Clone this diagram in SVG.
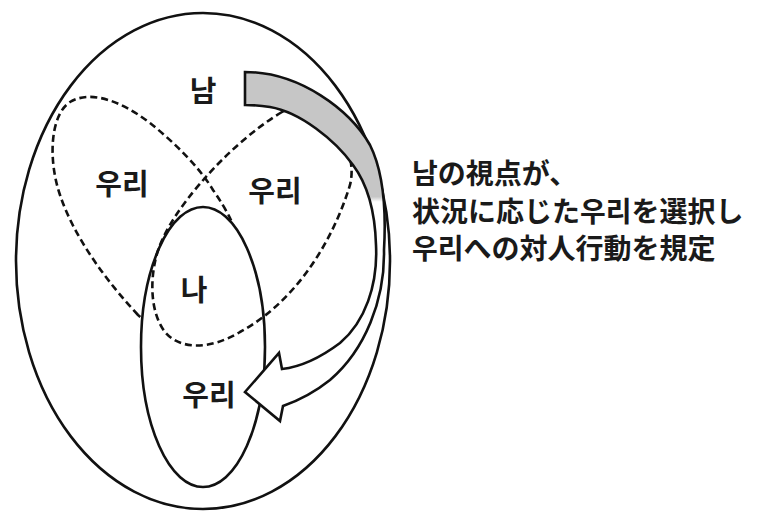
<svg xmlns="http://www.w3.org/2000/svg" width="761" height="511" viewBox="0 0 761 511">
<style>
.solid{fill:#fff;stroke:#111;stroke-width:2.6}
.dash{fill:none;stroke:#111;stroke-width:2.6;stroke-dasharray:7 4}
.lbl{font-family:"Noto Sans CJK KR","Noto Sans CJK JP",sans-serif;font-weight:bold;font-size:29px;fill:#1a1a1a;text-anchor:middle}
.note{font-family:"Noto Sans CJK JP","Noto Sans CJK KR",sans-serif;font-weight:bold;font-size:28px;fill:#1a1a1a}
</style>
<defs>
<linearGradient id="shade" gradientUnits="userSpaceOnUse" x1="0" y1="0" x2="0" y2="511">
<stop offset="0" stop-color="#c6c6c6"/>
<stop offset="0.385" stop-color="#c6c6c6"/>
<stop offset="0.395" stop-color="#ffffff"/>
<stop offset="1" stop-color="#ffffff"/>
</linearGradient>
</defs>
<rect width="761" height="511" fill="#fff"/>
<g id="nam">
<ellipse class="solid" cx="203" cy="261" rx="187" ry="248"/>
<text class="lbl" x="203" y="102">남</text>
</g>
<g id="uri-left">
<path class="dash" d="M138,315 C110,285 75,240 60,195 C48,160 50,115 70,102 C90,90 120,100 150,123 C175,143 200,168 213,190 C220,200 226,210 230,218 C250,260 240,320 200,330 C175,335 155,330 138,315 Z"/>
<text class="lbl" x="122" y="195">우리</text>
</g>
<g id="na-uri">
<ellipse class="solid" cx="203" cy="347" rx="62" ry="140"/>
<text class="lbl" x="194" y="301">나</text>
<text class="lbl" x="209" y="406">우리</text>
</g>
<g id="uri-right">
<path class="dash" d="M282,112 C255,128 225,155 205,178 C190,195 170,220 160,245 C150,270 148,310 165,332 C180,350 210,350 240,332 C290,305 330,250 350,185 C356,160 345,135 320,115 C305,105 292,106 282,112 Z"/>
<text class="lbl" x="275" y="202">우리</text>
</g>
<g id="connectors">
<path d="M245,72 C300,72 350,110 370,145 C385,175 386,215 384,250 C385,300 365,350 330,380 C315,392 300,400 283,406 L280,421 L245,392 L279,353 L282,369 C300,367 320,358 340,343 C365,322 378,285 376,245 C375,210 368,185 353,165 C335,140 300,112 270,107 C258,105 250,105 245,105 Z" fill="url(#shade)" stroke="#111" stroke-width="2.6" stroke-linejoin="miter"/>
</g>
<g id="caption">
<text class="note" x="412" y="184">남の視点が、</text>
<text class="note" x="412" y="222">状況に応じた우리を選択し</text>
<text class="note" x="412" y="259">우리への対人行動を規定</text>
</g>
</svg>
